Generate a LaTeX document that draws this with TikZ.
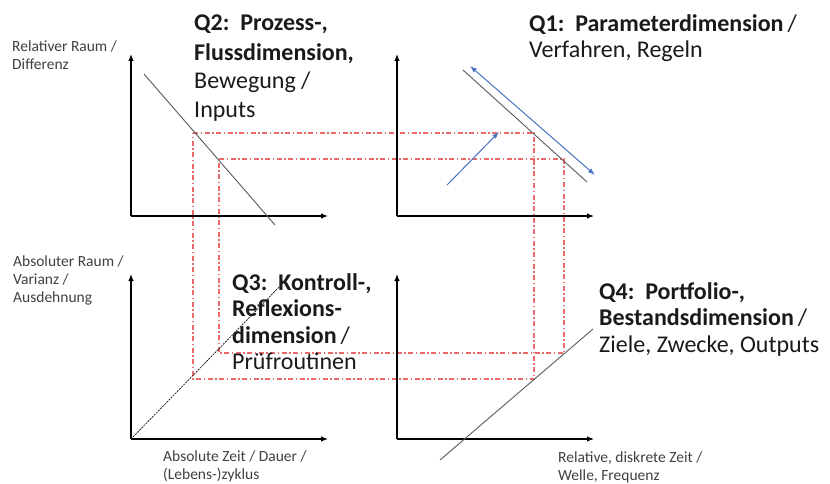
\documentclass[tikz,border=0pt]{standalone}
\usepackage{fontspec}
\setmainfont{Carlito}
\usetikzlibrary{arrows.meta}
\definecolor{diaggray}{HTML}{595959}
\definecolor{arrowblue}{HTML}{4A72C0}
\definecolor{dashred}{HTML}{E86A6A}
\definecolor{smalltext}{HTML}{404040}
\definecolor{bigtext}{HTML}{1A1A1A}
\begin{document}
\begin{tikzpicture}[x=1pt,y=-1pt,
  axis/.style={line width=1.2pt,-{Latex[length=7pt,width=5.5pt]}},
  diag/.style={diaggray,line width=0.9pt},
  diagdash/.style={black!85,line width=0.8pt,dash pattern=on 2pt off 1pt},
  bluearrow/.style={arrowblue,line width=1pt,-{Latex[length=7pt,width=5pt]}},
  bluedouble/.style={arrowblue,line width=1pt,{Latex[length=7pt,width=5pt]}-{Latex[length=7pt,width=5pt]}},
  dashdot/.style={dashred,line width=1.2pt,dash pattern=on 5pt off 2.5pt on 1.5pt off 2.5pt},
  bigtext/.style={anchor=base west,inner sep=0pt,align=left,text=bigtext,font=\fontsize{24}{26.5}\selectfont},
  bigtextwide/.style={bigtext,font=\fontsize{24}{29}\selectfont},
  smalltext/.style={anchor=base west,inner sep=0pt,align=left,text=smalltext,font=\fontsize{15.5}{18}\selectfont}
]
\useasboundingbox (0,0) rectangle (830,484);

% axes coordinates
\coordinate (O2) at (131,216); \coordinate (Y2) at (131,54); \coordinate (X2) at (328,216);
\coordinate (O1) at (397,216); \coordinate (Y1) at (397,54); \coordinate (X1) at (594,216);
\coordinate (O3) at (131,439); \coordinate (Y3) at (131,274); \coordinate (X3) at (328,439);
\coordinate (O4) at (397,439); \coordinate (Y4) at (397,274); \coordinate (X4) at (594,439);

% dash-dot rectangles (corners)
\coordinate (R1tl) at (193,133); \coordinate (R1tr) at (534,133);
\coordinate (R1bl) at (193,379); \coordinate (R1br) at (534,379);
\coordinate (R2tl) at (219,159); \coordinate (R2tr) at (564,159);
\coordinate (R2bl) at (219,353); \coordinate (R2br) at (564,353);
\draw[dashdot] (R1tl) -- (R1tr) -- (R1br) -- (R1bl) -- cycle;
\draw[dashdot] (R2tl) -- (R2tr) -- (R2br) -- (R2bl) -- cycle;

% axes
\draw[axis] (O2) -- (Y2); \draw[axis] (O2) -- (X2);
\draw[axis] (O1) -- (Y1); \draw[axis] (O1) -- (X1);
\draw[axis] (O3) -- (Y3); \draw[axis] (O3) -- (X3);
\draw[axis] (O4) -- (Y4); \draw[axis] (O4) -- (X4);

% diagonals
\coordinate (d2a) at (144,74); \coordinate (d2b) at (275,225);
\coordinate (d1a) at (463,70); \coordinate (d1b) at (587,182);
\coordinate (b1a) at (470,66); \coordinate (b1b) at (595,175);
\coordinate (b2a) at (447,185); \coordinate (b2b) at (499,132);
\coordinate (d3b) at (283,283);
\coordinate (d4a) at (440,460); \coordinate (d4b) at (593,329);
\draw[diag] (d2a) -- (d2b);
\draw[diag] (d1a) -- (d1b);
\draw[bluedouble] (b1a) -- (b1b);
\draw[bluearrow] (b2a) -- (b2b);
\draw[diagdash] (O3) -- (d3b);
\draw[diag] (d4a) -- (d4b);

% quadrant texts (anchor = baseline of the last line)
\node[bigtextwide] (q2) at (194,118) {\textbf{Q2:\ \ Prozess-,}\\\textbf{Flussdimension,}\\Bewegung /\\Inputs};
\node[bigtext] (q1) at (529,58) {\textbf{Q1:\ \ Parameterdimension}\,/\\Verfahren, Regeln};
\node[bigtext] (q3) at (232,369.5) {\textbf{Q3:\ \ Kontroll-,}\\\textbf{Reflexions-}\\\textbf{dimension}\,/\\Prüfroutinen};
\node[bigtext] (q4) at (599,352) {\textbf{Q4:\ \ Portfolio-,}\\\textbf{Bestandsdimension}\,/\\Ziele, Zwecke, Outputs};

% axis labels
\node[smalltext] (lRR) at (12,70) {Relativer Raum /\\Differenz};
\node[smalltext] (lAR) at (13,302) {Absoluter Raum /\\Varianz /\\Ausdehnung};
\node[smalltext] (lAZ) at (163,479) {Absolute Zeit / Dauer /\\(Lebens-)zyklus};
\node[smalltext] (lRZ) at (558,480) {Relative, diskrete Zeit /\\Welle, Frequenz};
\end{tikzpicture}
\end{document}
